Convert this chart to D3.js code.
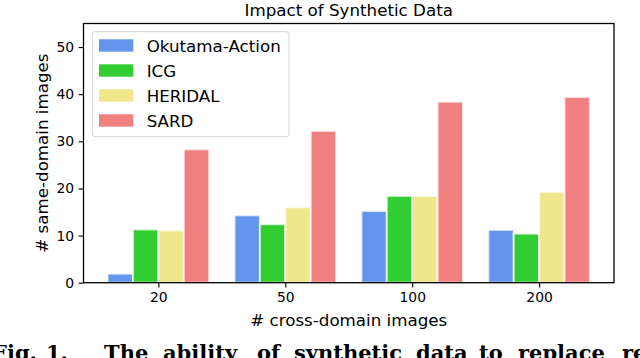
<!DOCTYPE html>
<html>
<head>
<meta charset="utf-8">
<script src="https://cdn.jsdelivr.net/npm/d3@7"></script>
<style>
  body { margin: 0; background: #fff; }
  svg { display: block; font-family: "DejaVu Sans", sans-serif; }
</style>
</head>
<body>
<svg id="chart" width="640" height="358"></svg>
<script>
// data
var groups = ["20", "50", "100", "200"];
var datasets = ["Okutama-Action", "ICG", "HERIDAL", "SARD"];
var colors = ["#6495ED", "#32CD32", "#F0E68C", "#F08080"];
var okutama = [1.9, 14.3, 15.2, 11.2];
var icg = [11.3, 12.4, 18.4, 10.4];
var heridal = [11.1, 16.0, 18.4, 19.3];
var sard = [28.3, 32.2, 38.4, 39.4];
var yTicks = [0, 10, 20, 30, 40, 50];
var captionWords = ["Fig.", "1.", "The", "ability", "of", "synthetic", "data", "to", "replace", "re"];

var series = [okutama, icg, heridal, sard];

// plot area (don't call it "top", that's window.top)
var pLeft = 83.5, pRight = 614, pTop = 23.5, pBottom = 282.7;
var svg = d3.select("#chart");

var x = d3.scaleLinear().domain([-0.59, 3.59]).range([pLeft, pRight]);
var y = d3.scaleLinear().domain([0, 55]).range([pBottom, pTop]);
var barW = 0.2;

// bars
series.forEach(function(vals, s) {
    svg.append("g").selectAll("rect")
        .data(vals)
        .enter().append("rect")
        .attr("x", function(d, i) { return x(i + (s - 2) * barW); })
        .attr("width", x(barW) - x(0))
        .attr("y", function(d) { return y(d); })
        .attr("height", function(d) { return y(0) - y(d); })
        .attr("fill", colors[s])
        .attr("stroke", "#fff")
        .attr("stroke-opacity", 0.7)
        .attr("stroke-width", 2);
});

// axes
var xAxis = d3.axisBottom(x)
    .tickValues([0, 1, 2, 3])
    .tickFormat(function(d) { return groups[d]; })
    .tickSizeInner(4.9).tickSizeOuter(0).tickPadding(4.5);
var gx = svg.append("g").attr("transform", "translate(0," + pBottom + ")").call(xAxis);

var yAxis = d3.axisLeft(y).tickValues(yTicks)
    .tickSizeInner(4.9).tickSizeOuter(0).tickPadding(4.5);
var gy = svg.append("g").attr("transform", "translate(" + pLeft + ",0)").call(yAxis);

[gx, gy].forEach(function(g) {
    g.select(".domain").remove();
    g.selectAll("text").attr("font-size", 13.9).attr("fill", "#000")
        .attr("font-family", "DejaVu Sans");
    g.selectAll("line").attr("stroke", "#000").attr("stroke-width", 1.1);
});

// frame
svg.append("rect")
    .attr("x", pLeft).attr("y", pTop)
    .attr("width", pRight - pLeft).attr("height", pBottom - pTop)
    .attr("fill", "none").attr("stroke", "#000").attr("stroke-width", 1.3);

// title and labels
svg.append("text").attr("x", (pLeft + pRight) / 2).attr("y", 16.3)
    .attr("text-anchor", "middle").attr("font-size", 16.7)
    .text("Impact of Synthetic Data");
svg.append("text").attr("x", (pLeft + pRight) / 2).attr("y", 325.5)
    .attr("text-anchor", "middle").attr("font-size", 16.7)
    .text("# cross-domain images");
svg.append("text")
    .attr("transform", "translate(47.5," + (pTop + pBottom) / 2 + ") rotate(-90)")
    .attr("text-anchor", "middle").attr("font-size", 16.7)
    .text("# same-domain images");

// legend
var lg = svg.append("g");
lg.append("rect").attr("x", 92.3).attr("y", 31.7)
    .attr("width", 196.7).attr("height", 105)
    .attr("rx", 3).attr("fill", "#fff").attr("fill-opacity", 0.8)
    .attr("stroke", "#d6d6d6").attr("stroke-width", 1);
datasets.forEach(function(name, i) {
    var cy = 45.5 + i * 25;
    lg.append("rect").attr("x", 99).attr("y", cy - 6.2)
        .attr("width", 34.3).attr("height", 12.4)
        .attr("fill", colors[i]);
    lg.append("text").attr("x", 146.7).attr("y", cy + 6.2)
        .attr("font-size", 16.7).text(name);
});

// caption of the paper, cut by the crop
var capX = [-8, 46, 104, 163, 257, 294, 416, 479, 518, 622];
var cap = svg.append("text").attr("y", 359.5)
    .attr("font-family", "DejaVu Serif").attr("font-weight", "bold")
    .attr("font-size", 21);
captionWords.forEach(function(w, i) {
    cap.append("tspan").attr("x", capX[i]).text(w);
});
</script>
</body>
</html>
